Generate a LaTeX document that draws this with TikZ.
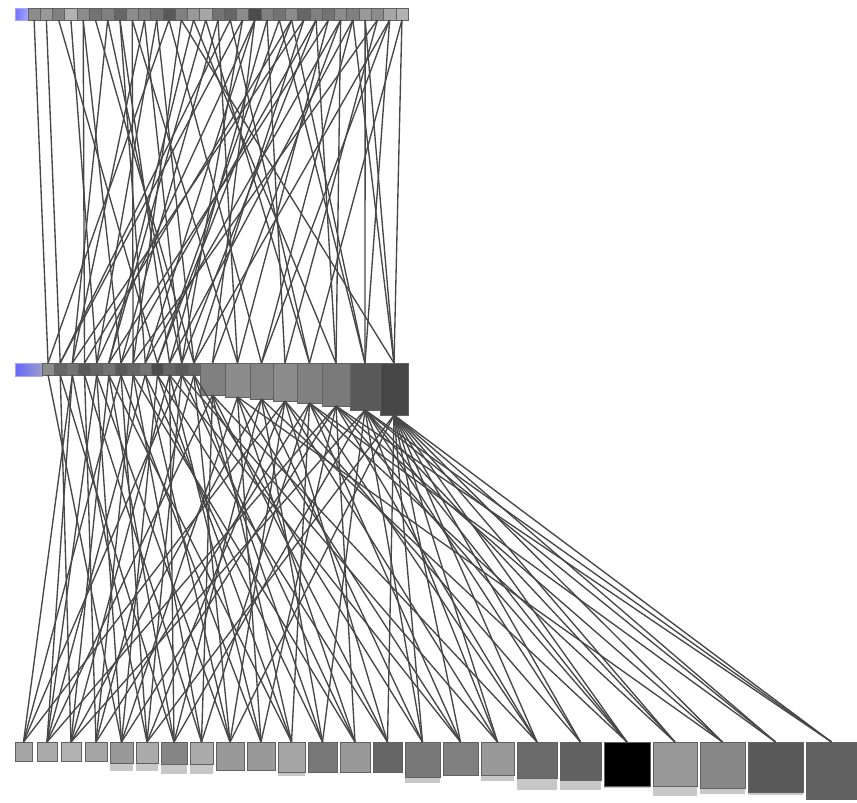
\documentclass[tikz,border=0pt]{standalone}
\begin{document}
\begin{tikzpicture}[x=1pt,y=-1pt,
  cell/.style={draw=black!62, line width=0.6pt, inner sep=0pt, outer sep=0pt, anchor=north west},
  shade/.style={fill=black!22, draw=none},
  link/.style={draw=black!72, line width=1.35pt},
  lbl/.style={draw=blue!35!white, line width=0.5pt, inner sep=0pt, outer sep=0pt, anchor=north west}]
\useasboundingbox (0,0) rectangle (857,803);
\fill[white] (0,0) rectangle (857,803);

% labels (blue)
\node[lbl, left color=blue!55!white, right color=blue!35!white, minimum width=13pt, minimum height=12pt] (tl) at (15,8) {};
\node[lbl, left color=blue!60!white, right color=blue!30!gray!60, minimum width=27pt, minimum height=13pt] (ml) at (15,363) {};

% top row
\foreach \i/\g in {1/45,2/40,3/50,4/30,5/45,6/55,7/50,8/60,9/45,10/50,11/55,12/65,13/50,14/40,15/35,16/55,17/60,18/45,19/70,20/50,21/55,22/45,23/60,24/50,25/55,26/45,27/50,28/40,29/45,30/35,31/30}
  \node[cell, fill=black!\g, minimum width=12.26pt, minimum height=12pt] (t\i) at ({28+12.26*(\i-1)},8) {};

% middle row, small cells
\foreach \i/\g in {1/45,2/60,3/55,4/65,5/60,6/55,7/65,8/60,9/55,10/70,11/60,12/65,13/60}
  \node[cell, fill=black!\g, minimum width=12.15pt, minimum height=12pt] (m\i) at ({42+12.15*(\i-1)},363) {};

% middle row, large cells
\foreach \i/\x/\w/\h/\g in {14/200/25/32/50,15/225/25/34/45,16/250/23/36/48,17/273/24/38/45,18/297/25/40/50,19/322/28/43/52,20/350/30/47/65,21/380/28/52/72}
  \node[cell, fill=black!\g, minimum width=\w pt, minimum height=\h pt] (m\i) at (\x,363) {};

% bottom row
\foreach \i/\x/\w/\h/\g/\s in {1/15/17/19/35/0,2/37/20/19/33/0,3/61/20/19/30/0,4/85/22/19/35/0,5/110/23/21/40/8,6/136/22/21/33/8,7/161/26/22/48/10,8/190/23/22/33/10,9/216/28/28/40/0,10/247/28/28/40/0,11/278/27/30/35/4,12/308/29/30/53/0,13/340/30/30/40/0,14/373/29/30/60/0,15/405/35/35/53/6,16/443/35/33/50/0,17/481/33/33/40/6,18/517/40/36/58/12,19/560/41/38/62/10,20/604/46/44/100/2,21/653/44/44/40/10,22/700/45/46/47/6,23/748/55/50/65/3,24/806/51/57/62/0}
{
  \fill[shade] (\x,742) rectangle ({\x+\w},{742+\h+\s});
  \node[cell, fill=black!\g, minimum width=\w pt, minimum height=\h pt] (b\i) at (\x,742) {};
}

% connectors top -> middle
\foreach \a/\b in {1/1,5/4,7/3,8/9,9/8,10/12,11/5,12/16,13/8,14/19,15/6,16/7,17/18,18/2,19/14,20/11,21/10,22/20,23/13,24/7,25/15,26/9,27/21,28/20,29/17,30/20,31/18,3/10,6/13,10/3,12/1,14/6,16/15,18/12,19/5,20/17,22/10,23/3,24/19,26/14,27/11,28/21,29/8,30/16,21/20,25/6,17/2,11/13,13/21,15/18,4/5,8/11,2/2,31/21,26/19,7/12,9/15,19/9,22/4,24/12,27/16,30/13,5/7}
  \draw[link] (t\a.south) -- (m\b.north);

% connectors middle -> bottom
\foreach \a/\b in {21/16,21/18,21/19,21/20,21/21,21/22,21/23,21/24,21/14,21/9,21/6,21/17,21/15,
20/17,20/19,20/21,20/23,20/15,20/12,20/7,20/3,20/24,20/20,
19/20,19/22,19/24,19/13,19/10,19/5,19/2,19/18,
18/16,18/18,18/21,18/11,18/8,18/4,18/23,
17/17,17/19,17/14,17/9,17/6,17/1,
16/15,16/20,16/12,16/7,16/3,
15/16,15/13,15/10,15/5,15/22,
14/14,14/11,14/8,14/2,14/18,
13/12,13/9,13/4,13/15,
12/13,12/6,12/1,12/17,
11/10,11/7,11/3,11/16,
10/11,10/5,10/14,
9/9,9/2,9/12,
8/8,8/4,8/13,
7/10,7/6,7/1,
6/7,6/3,6/11,
5/5,5/9,5/2,
4/4,4/8,
3/6,3/1,3/2,
2/3,2/7,
1/5}
  \draw[link] (m\a.south) -- (b\b.north);
\end{tikzpicture}
\end{document}
